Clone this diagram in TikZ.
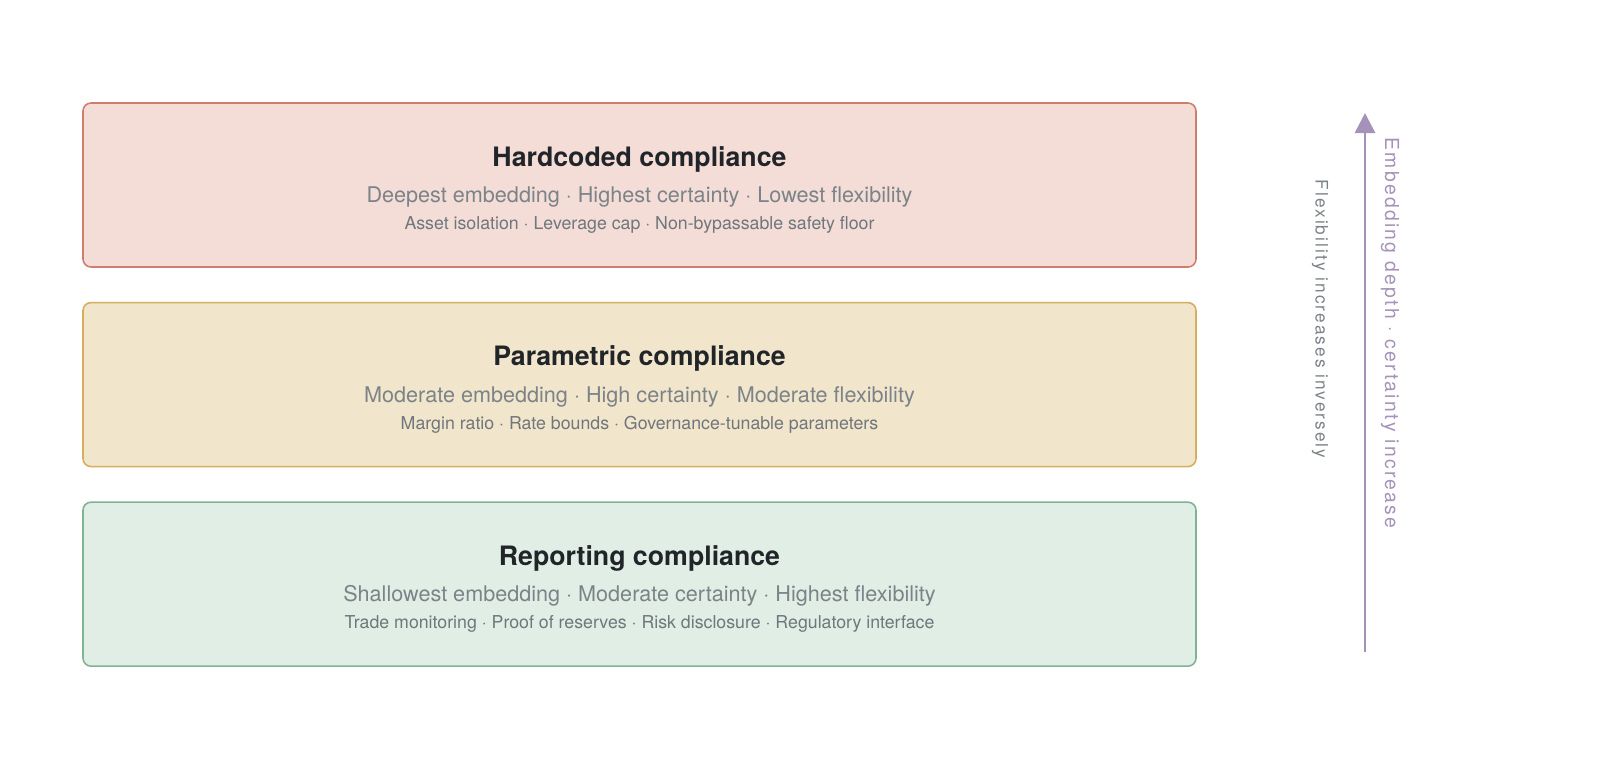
\documentclass[tikz,border=0pt]{standalone}
\usepackage{fontspec}
\setmainfont{TeX Gyre Heros}
\newfontfamily\spacedfont[LetterSpace=12]{TeX Gyre Heros}
\usetikzlibrary{positioning}
\usetikzlibrary{arrows.meta}
\definecolor{hardfill}{HTML}{F3DDD6}
\definecolor{hardline}{HTML}{CF7E6E}
\definecolor{paramfill}{HTML}{F1E5CB}
\definecolor{paramline}{HTML}{D6AE5E}
\definecolor{reportfill}{HTML}{E0EEE6}
\definecolor{reportline}{HTML}{80B392}
\definecolor{titlegray}{HTML}{212529}
\definecolor{subgray}{HTML}{7C8388}
\definecolor{detailgray}{HTML}{6F767C}
\definecolor{axispurple}{HTML}{A592B9}

\begin{document}
\begin{tikzpicture}

                \def\d{.68cm}

                % Layer boxes and their three lines of text
                \tikzset{
                    layer/.style={draw, line width=0.9pt, rounded corners=0.16cm,
                        minimum width=22.26cm, minimum height=3.28cm},
                    title/.style={font=\fontsize{15.2}{18}\selectfont\bfseries, text=titlegray},
                    sub/.style={font=\fontsize{12.3}{14}\selectfont, text=subgray},
                    detail/.style={font=\fontsize{10.1}{12}\selectfont, text=detailgray}
                }

                \useasboundingbox (0,0) rectangle (32,-15.66);

                \begin{scope}
                    \node[layer, fill=hardfill, draw=hardline] (hard) at (12.79,-3.70) {};
                    \node[layer, fill=paramfill, draw=paramline] (param) [below=\d of hard] {};
                    \node[layer, fill=reportfill, draw=reportline] (report) [below=\d of param] {};
                \end{scope}

                \begin{scope}
                    \node[title] (hardT) at ([yshift=0.52cm]hard.center) {Hardcoded compliance};
                    \node[sub] (hardS) at ([yshift=-0.24cm]hard.center)
                    {Deepest embedding · Highest certainty · Lowest flexibility};
                    \node[detail] (hardD) at ([yshift=-0.80cm]hard.center)
                    {Asset isolation · Leverage cap · Non-bypassable safety floor};

                    \node[title] (paramT) at ([yshift=0.52cm]param.center) {Parametric compliance};
                    \node[sub] (paramS) at ([yshift=-0.24cm]param.center)
                    {Moderate embedding · High certainty · Moderate flexibility};
                    \node[detail] (paramD) at ([yshift=-0.80cm]param.center)
                    {Margin ratio · Rate bounds · Governance-tunable parameters};

                    \node[title] (reportT) at ([yshift=0.52cm]report.center) {Reporting compliance};
                    \node[sub] (reportS) at ([yshift=-0.24cm]report.center)
                    {Shallowest embedding · Moderate certainty · Highest flexibility};
                    \node[detail] (reportD) at ([yshift=-0.80cm]report.center)
                    {Trade monitoring · Proof of reserves · Risk disclosure · Regulatory interface};
                \end{scope}

                % Side axis
                \coordinate (axisBot) at (27.30,-13.04);
                \coordinate (axisTop) at (27.30,-2.26);
                \draw[axispurple, line width=1.6pt,
                    -{Triangle[width=0.40cm,length=0.40cm]}] (axisBot) -- (axisTop);

                \node[rotate=-90, text=axispurple, font=\spacedfont\fontsize{11}{13}\selectfont]
                    (depth) at (27.80,-6.66) {Embedding depth · certainty increase};
                \node[rotate=-90, text=subgray, font=\spacedfont\fontsize{9.8}{11}\selectfont]
                    (flex) at (26.40,-6.38) {Flexibility increases inversely};

                \end{tikzpicture}
\end{document}
